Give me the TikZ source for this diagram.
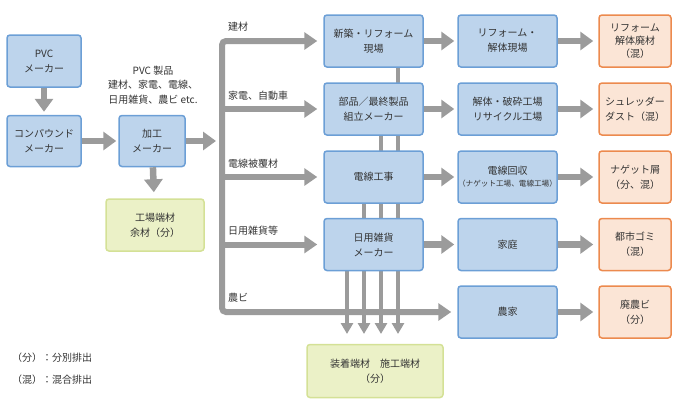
\documentclass[tikz,border=0pt]{standalone}
\usepackage{fontspec}
\setmainfont{Noto Sans CJK JP}
\usetikzlibrary{arrows.meta}
\definecolor{bluefill}{HTML}{BDD4EC}
\definecolor{blueedge}{HTML}{6C9FD6}
\definecolor{orfill}{HTML}{FBE5D6}
\definecolor{oredge}{HTML}{EC8A4E}
\definecolor{grfill}{HTML}{EBF1C7}
\definecolor{gredge}{HTML}{D4E196}
\definecolor{arrgray}{HTML}{9B9B9B}
\definecolor{txt}{HTML}{333333}
\begin{document}
\begin{tikzpicture}[x=1pt,y=-1pt,
  font=\fontsize{10}{15}\selectfont, text=txt,
  box/.style={line width=1.5pt, rounded corners=3pt, align=center, inner sep=0pt},
  bluebox/.style={box, draw=blueedge, fill=bluefill, minimum width=99pt, minimum height=52pt},
  orbox/.style={box, draw=oredge, fill=orfill, minimum width=72pt, minimum height=52pt},
  grbox/.style={box, draw=gredge, fill=grfill},
  arr/.style={draw=arrgray, line width=6.5pt, -{Triangle[length=13pt,width=18pt]}},
  trunkarr/.style={draw=arrgray, line width=6pt, -{Triangle[length=13pt,width=17pt]}},
  varr/.style={draw=arrgray, line width=4.5pt, -{Triangle[length=11pt,width=12pt]}},
  lbl/.style={anchor=west, inner sep=0pt}
]
\useasboundingbox (0,0) rectangle (680,400);

% vertical lines behind boxes
\coordinate (v1) at (347,334);
\coordinate (v2) at (364,334);
\coordinate (v3) at (381,334);
\coordinate (v4) at (398,334);
\coordinate (m1b) at (398,60);
\coordinate (m2b) at (381,128);
\coordinate (m3b) at (364,196);
\coordinate (m4b) at (347,264);
\draw[varr] (m1b) -- (v4);
\draw[varr] (m2b) -- (v3);
\draw[varr] (m3b) -- (v2);
\draw[varr] (m4b) -- (v1);

% left boxes
\node[bluebox, minimum width=74pt] (pvc) at (44,61) {PVC\\メーカー};
\node[bluebox, minimum width=74pt, minimum height=51pt] (comp) at (44,141) {コンパウンド\\メーカー};
\node[bluebox, minimum width=66pt, minimum height=51pt] (kako) at (152,141) {加工\\メーカー};
\node[grbox, minimum width=98pt, minimum height=52pt] (kojo) at (155,225) {工場端材\\余材（分）};

\node[align=center, font=\fontsize{10}{14.5}\selectfont] (prod) at (153,85) {PVC 製品\\建材、家電、電線、\\日用雑貨、農ビ etc.};

% middle boxes
\node[bluebox] (m1) at (373.5,41) {新築・リフォーム\\現場};
\node[bluebox] (m2) at (373.5,109) {部品／最終製品\\組立メーカー};
\node[bluebox] (m3) at (373.5,177) {電線工事};
\node[bluebox] (m4) at (373.5,244.5) {日用雑貨\\メーカー};

% column 2
\node[bluebox] (c1) at (507.5,41) {リフォーム・\\解体現場};
\node[bluebox] (c2) at (507.5,109) {解体・破砕工場\\リサイクル工場};
\node[bluebox] (c3) at (507.5,177) {電線回収\\[-3pt]{\fontsize{7.6}{9}\selectfont （ナゲット工場、電線工場）}};
\node[bluebox] (c4) at (507.5,244.5) {家庭};
\node[bluebox] (c5) at (507.5,312) {農家};

% column 3
\node[orbox] (o1) at (635,41) {リフォーム\\[-2pt]解体廃材\\[-2pt]（混）};
\node[orbox] (o2) at (635,109) {シュレッダー\\ダスト（混）};
\node[orbox] (o3) at (635,177) {ナゲット屑\\（分、混）};
\node[orbox] (o4) at (635,244.5) {都市ゴミ\\（混）};
\node[orbox] (o5) at (635,312) {廃農ビ\\（分）};

% bottom green box
\node[grbox, minimum width=136pt, minimum height=53pt] (bot) at (375,371) {装着端材　施工端材\\（分）};

% left arrows
\draw[arr, shorten >=3pt] (pvc) -- (comp);
\draw[arr, shorten >=2pt] (comp) -- (kako);
\draw[arr, shorten >=6pt] (kako) -- (kojo);
\coordinate (tin) at (216,141);
\draw[arr] (kako.east) -- (tin);

% trunk
\coordinate (t1) at (222,41);
\coordinate (t2) at (222,109);
\coordinate (t3) at (222,177);
\coordinate (t4) at (222,244.5);
\coordinate (t5) at (222,312);
\draw[trunkarr, rounded corners=4pt, shorten >=6pt] (t2) -- (t1) -- (m1.west);
\draw[trunkarr, shorten >=6pt] (t2) -- (m2.west);
\draw[trunkarr, shorten >=6pt] (t3) -- (m3.west);
\draw[trunkarr, shorten >=6pt] (t4) -- (m4.west);
\draw[trunkarr, rounded corners=4pt, shorten >=6pt] (t2) -- (t5) -- (c5.west);

% branch labels
\node[lbl] (l1) at (228,27) {建材};
\node[lbl] (l2) at (228,96) {家電、自動車};
\node[lbl] (l3) at (228,164) {電線被覆材};
\node[lbl] (l4) at (228,231) {日用雑貨等};
\node[lbl] (l5) at (228,298) {農ビ};

% middle -> column 2
\draw[arr, shorten >=3pt] (m1) -- (c1);
\draw[arr, shorten >=3pt] (m2) -- (c2);
\draw[arr, shorten >=3pt] (m3) -- (c3);
\draw[arr, shorten >=3pt] (m4) -- (c4);

% column 2 -> column 3
\draw[arr, shorten >=5pt] (c1) -- (o1);
\draw[arr, shorten >=5pt] (c2) -- (o2);
\draw[arr, shorten >=5pt] (c3) -- (o3);
\draw[arr, shorten >=5pt] (c4) -- (o4);
\draw[arr, shorten >=5pt] (c5) -- (o5);

% legend
\node[lbl] (lg1) at (12,358) {（分）：分別排出};
\node[lbl] (lg2) at (12,380) {（混）：混合排出};
\end{tikzpicture}
\end{document}
